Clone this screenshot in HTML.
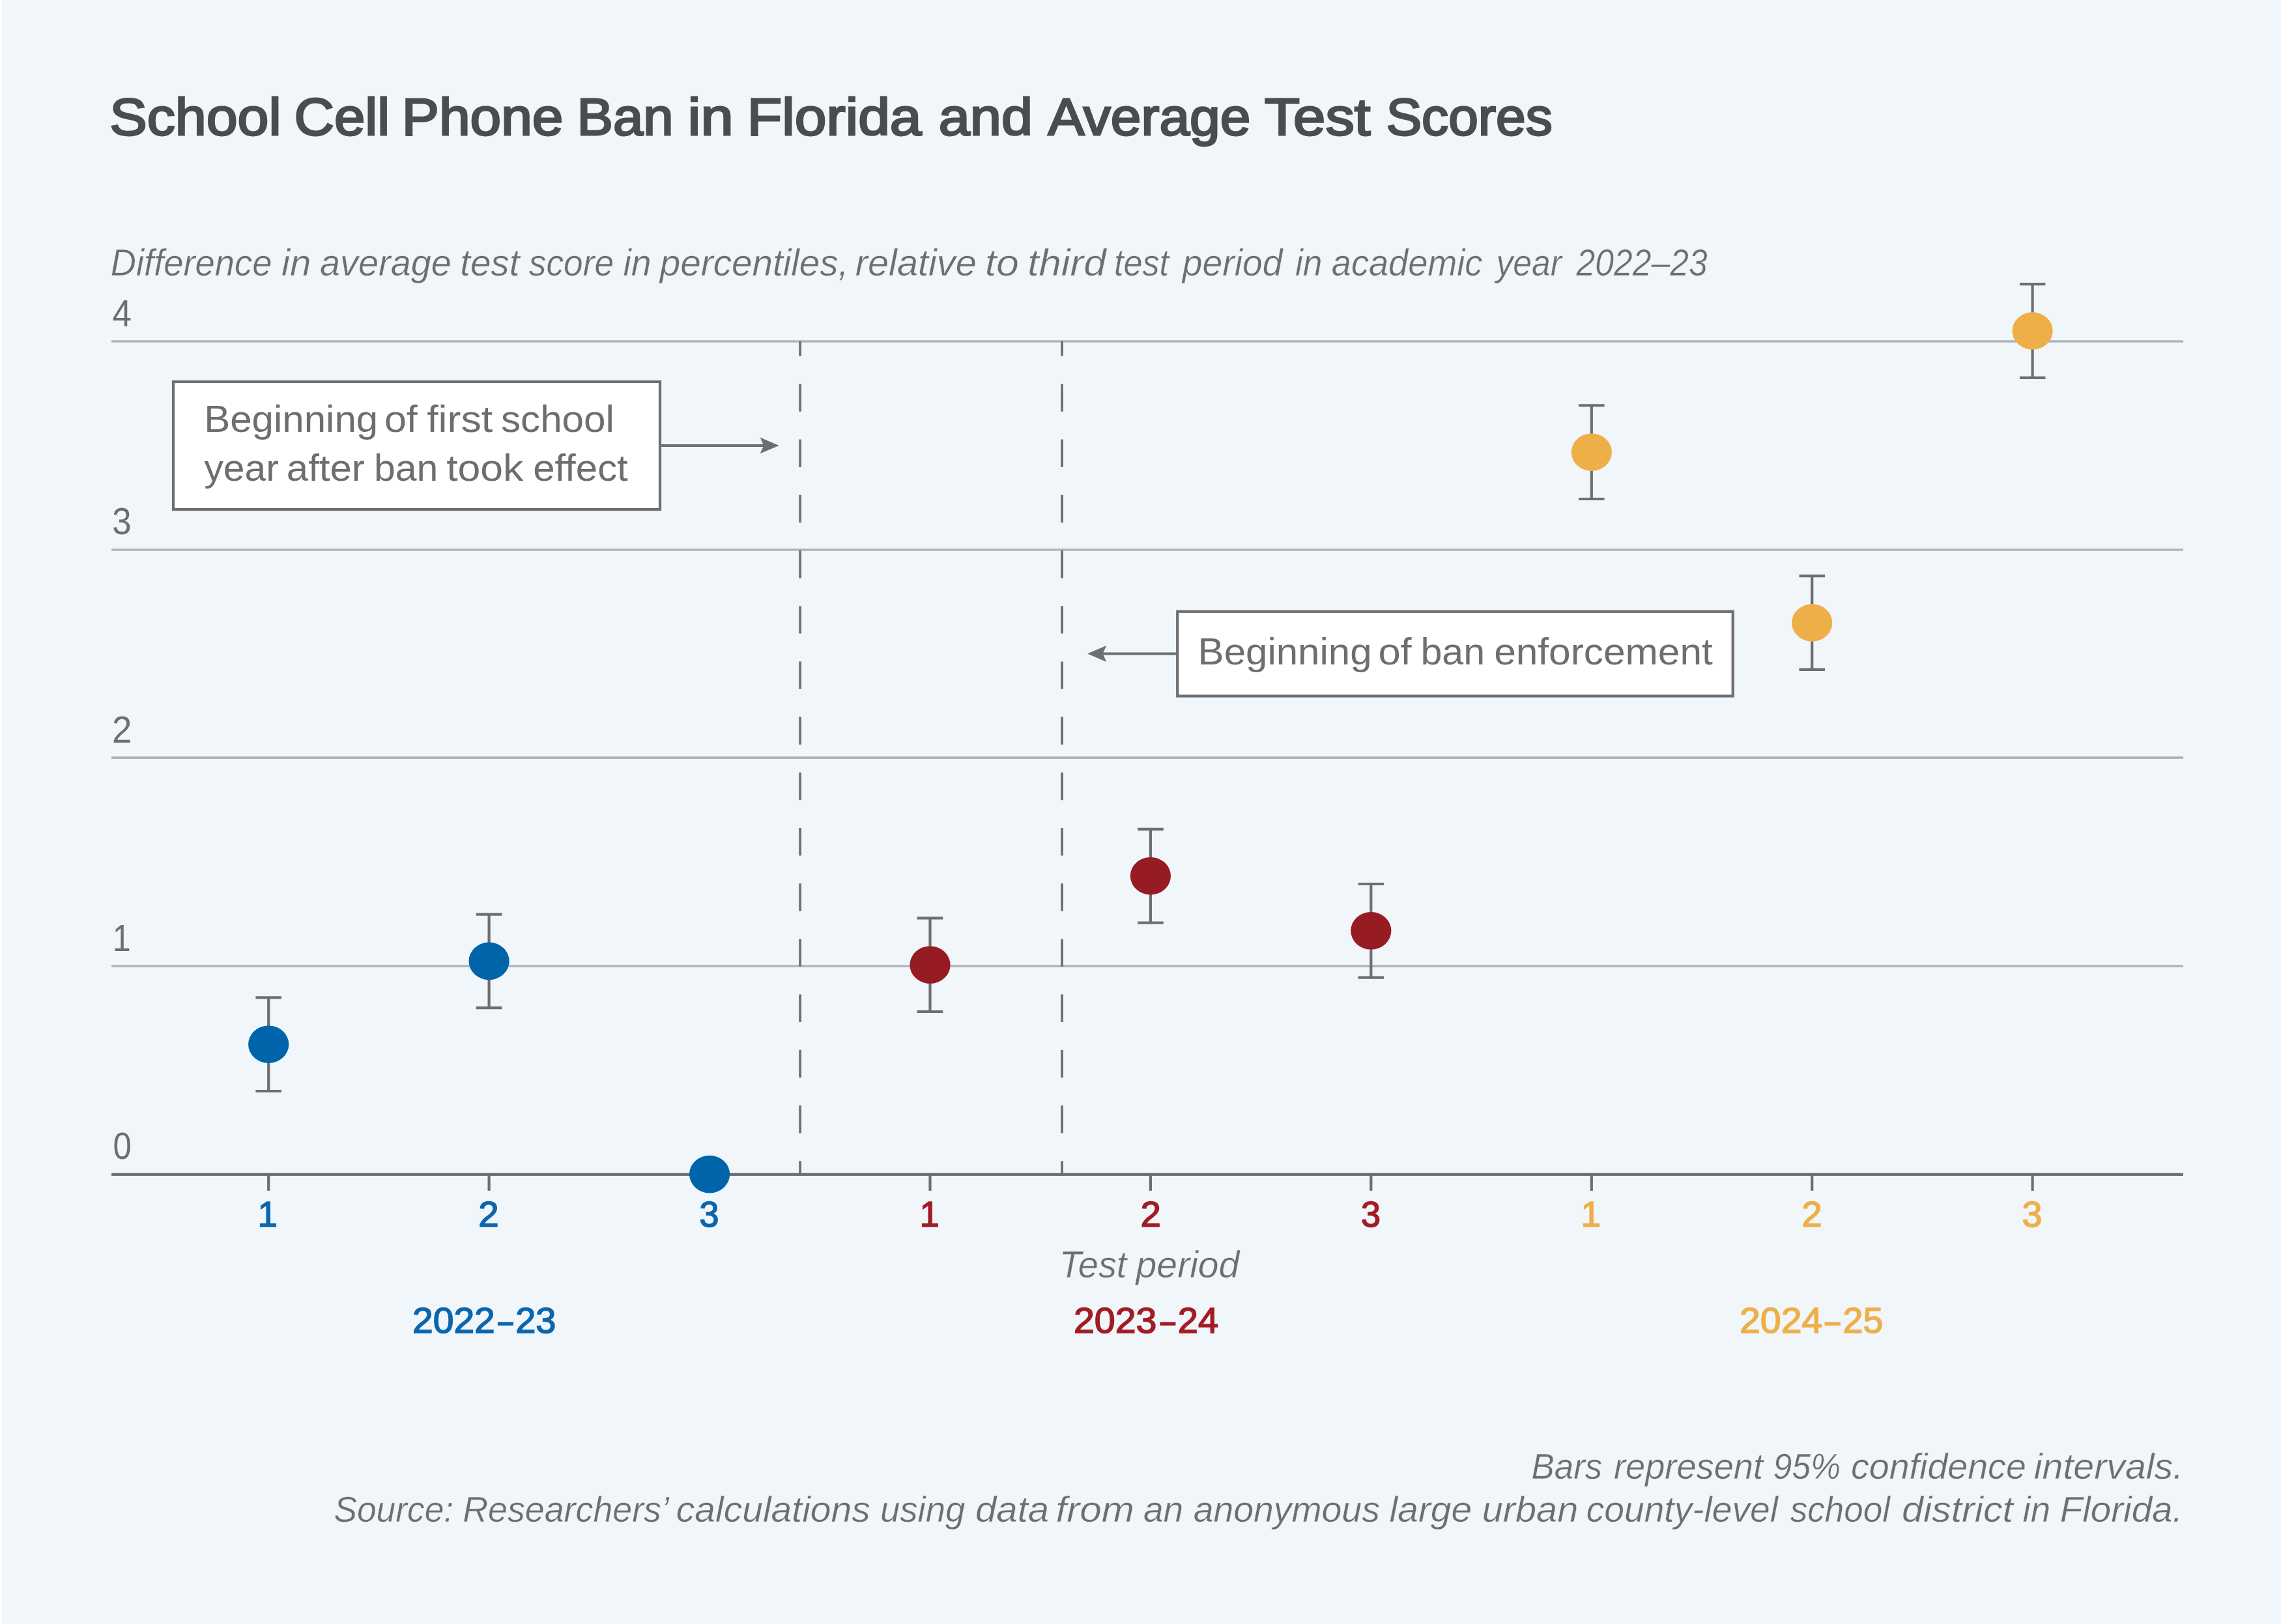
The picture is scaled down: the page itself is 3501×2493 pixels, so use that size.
<!DOCTYPE html>
<html lang="en"><head><meta charset="utf-8">
<title>School Cell Phone Ban in Florida and Average Test Scores</title>
<style>
html,body{margin:0;padding:0;background:#F1F6FB;}
body{width:3501px;height:2493px;overflow:hidden;}
svg{display:block;}
text{font-family:"Liberation Sans",Arial,Helvetica,sans-serif;}
.i{font-style:italic;}
</style></head><body>
<svg width="3501" height="2493" viewBox="0 0 3501 2493" role="img" aria-label="School Cell Phone Ban in Florida and Average Test Scores">
<rect x="0" y="0" width="3501" height="2493" fill="#F1F6FB"/>
<rect x="0" y="0" width="2.6" height="2493" fill="#ffffff"/>
<g stroke="#B0B3B9" stroke-width="3.7" fill="none">
<line x1="171.1" y1="1483.00" x2="3351.0" y2="1483.00"/>
<line x1="171.1" y1="1163.05" x2="3351.0" y2="1163.05"/>
<line x1="171.1" y1="844.00" x2="3351.0" y2="844.00"/>
<line x1="171.1" y1="524.00" x2="3351.0" y2="524.00"/>
</g>
<g stroke="#6D6E72" stroke-width="3.8" fill="none" stroke-dasharray="42.4 42.8" stroke-dashoffset="19.8">
<line x1="1228.1" y1="524.00" x2="1228.1" y2="1802.85"/>
<line x1="1630.0" y1="524.00" x2="1630.0" y2="1802.85"/>
</g>
<g stroke="#6D6E72" stroke-width="4.3" fill="none">
<line x1="171.1" y1="1802.85" x2="3351.0" y2="1802.85"/>
</g>
<g stroke="#6D6E72" stroke-width="4.2" fill="none">
<line x1="412.2" y1="1802.85" x2="412.2" y2="1827.9"/>
<line x1="750.6" y1="1802.85" x2="750.6" y2="1827.9"/>
<line x1="1089.1" y1="1802.85" x2="1089.1" y2="1827.9"/>
<line x1="1427.5" y1="1802.85" x2="1427.5" y2="1827.9"/>
<line x1="1765.9" y1="1802.85" x2="1765.9" y2="1827.9"/>
<line x1="2104.3" y1="1802.85" x2="2104.3" y2="1827.9"/>
<line x1="2442.8" y1="1802.85" x2="2442.8" y2="1827.9"/>
<line x1="2781.2" y1="1802.85" x2="2781.2" y2="1827.9"/>
<line x1="3119.6" y1="1802.85" x2="3119.6" y2="1827.9"/>
</g>
<g stroke="#6D6E72" stroke-width="4.2" fill="none">
<path d="M412.2 1531.4V1675.0M392.4 1531.4H431.9M392.4 1675.0H431.9"/>
<path d="M750.6 1403.6V1547.2M730.9 1403.6H770.4M730.9 1547.2H770.4"/>
<path d="M1427.5 1409.4V1553.0M1407.7 1409.4H1447.2M1407.7 1553.0H1447.2"/>
<path d="M1765.9 1272.9V1416.5M1746.2 1272.9H1785.7M1746.2 1416.5H1785.7"/>
<path d="M2104.3 1357.0V1500.6M2084.6 1357.0H2124.1M2084.6 1500.6H2124.1"/>
<path d="M2442.8 622.4V766.0M2423.0 622.4H2462.5M2423.0 766.0H2462.5"/>
<path d="M2781.2 884.2V1027.8M2761.5 884.2H2801.0M2761.5 1027.8H2801.0"/>
<path d="M3119.6 436.2V579.8M3099.9 436.2H3139.4M3099.9 579.8H3139.4"/>
</g>
<ellipse cx="412.2" cy="1603.2" rx="31.1" ry="28.8" fill="#0064AA"/>
<ellipse cx="750.6" cy="1475.4" rx="31.1" ry="28.8" fill="#0064AA"/>
<ellipse cx="1089.1" cy="1802.6" rx="31.1" ry="28.8" fill="#0064AA"/>
<ellipse cx="1427.5" cy="1481.2" rx="31.1" ry="28.8" fill="#961B22"/>
<ellipse cx="1765.9" cy="1344.7" rx="31.1" ry="28.8" fill="#961B22"/>
<ellipse cx="2104.3" cy="1428.8" rx="31.1" ry="28.8" fill="#961B22"/>
<ellipse cx="2442.8" cy="694.2" rx="31.1" ry="28.8" fill="#EFAF48"/>
<ellipse cx="2781.2" cy="956.0" rx="31.1" ry="28.8" fill="#EFAF48"/>
<ellipse cx="3119.6" cy="508.0" rx="31.1" ry="28.8" fill="#EFAF48"/>
<g stroke="#6D6E72" stroke-width="4.2" fill="#ffffff">
<rect x="266" y="586" width="747" height="196"/>
<rect x="1807.2" y="938.8" width="852.5" height="129.7"/>
</g>
<g stroke="#6D6E72" stroke-width="4" fill="none">
<line x1="1014" y1="683.9" x2="1174" y2="683.9"/>
<line x1="1806" y1="1003.5" x2="1691" y2="1003.5"/>
</g>
<g fill="#6D6E72" stroke="none">
<path d="M1195.8 683.9L1166.6 671.5L1172.2 683.9L1166.6 696.3Z"/>
<path d="M1669 1003.5L1698.2 991.1L1692.6 1003.5L1698.2 1015.9Z"/>
</g>
<text id="title" y="206.90" font-size="80.50" fill="#4B4C50" stroke="#4B4C50" stroke-width="2.80" stroke-linejoin="miter"><tspan id="title_0" x="168.20" textLength="263.40" lengthAdjust="spacingAndGlyphs">School</tspan> <tspan id="title_1" x="451.60" textLength="146.60" lengthAdjust="spacingAndGlyphs">Cell</tspan> <tspan id="title_2" x="616.80" textLength="247.60" lengthAdjust="spacingAndGlyphs">Phone</tspan> <tspan id="title_3" x="885.40" textLength="148.20" lengthAdjust="spacingAndGlyphs">Ban</tspan> <tspan id="title_4" x="1055.40" textLength="70.20" lengthAdjust="spacingAndGlyphs">in</tspan> <tspan id="title_5" x="1146.80" textLength="267.80" lengthAdjust="spacingAndGlyphs">Florida</tspan> <tspan id="title_6" x="1440.80" textLength="144.20" lengthAdjust="spacingAndGlyphs">and</tspan> <tspan id="title_7" x="1608.40" textLength="311.00" lengthAdjust="spacingAndGlyphs">Average</tspan> <tspan id="title_8" x="1940.80" textLength="162.60" lengthAdjust="spacingAndGlyphs">Test</tspan> <tspan id="title_9" x="2127.40" textLength="255.40" lengthAdjust="spacingAndGlyphs">Scores</tspan></text>
<text id="sub" y="423.10" font-size="57.50" fill="#6D6E72" class="i" stroke="#F1F6FB" stroke-width="0.40"><tspan id="sub_0" x="169.80" textLength="247.60" lengthAdjust="spacingAndGlyphs">Difference</tspan> <tspan id="sub_1" x="432.00" textLength="45.40" lengthAdjust="spacingAndGlyphs">in</tspan> <tspan id="sub_2" x="491.00" textLength="201.80" lengthAdjust="spacingAndGlyphs">average</tspan> <tspan id="sub_3" x="706.20" textLength="91.20" lengthAdjust="spacingAndGlyphs">test</tspan> <tspan id="sub_4" x="811.80" textLength="130.20" lengthAdjust="spacingAndGlyphs">score</tspan> <tspan id="sub_5" x="956.40" textLength="43.20" lengthAdjust="spacingAndGlyphs">in</tspan> <tspan id="sub_6" x="1012.80" textLength="289.60" lengthAdjust="spacingAndGlyphs">percentiles,</tspan> <tspan id="sub_7" x="1312.80" textLength="186.00" lengthAdjust="spacingAndGlyphs">relative</tspan> <tspan id="sub_8" x="1512.00" textLength="51.80" lengthAdjust="spacingAndGlyphs">to</tspan> <tspan id="sub_9" x="1577.20" textLength="120.40" lengthAdjust="spacingAndGlyphs">third</tspan> <tspan id="sub_10" x="1710.00" textLength="84.00" lengthAdjust="spacingAndGlyphs">test</tspan> <tspan id="sub_11" x="1814.80" textLength="153.60" lengthAdjust="spacingAndGlyphs">period</tspan> <tspan id="sub_12" x="1988.00" textLength="41.60" lengthAdjust="spacingAndGlyphs">in</tspan> <tspan id="sub_13" x="2043.80" textLength="231.60" lengthAdjust="spacingAndGlyphs">academic</tspan> <tspan id="sub_14" x="2296.40" textLength="100.60" lengthAdjust="spacingAndGlyphs">year</tspan> <tspan id="sub_15" x="2419.60" textLength="201.20" lengthAdjust="spacingAndGlyphs">2022–23</tspan></text>
<text id="y4" y="500.90" font-size="56.50" fill="#6D6E72" x="172.40" textLength="29.40" lengthAdjust="spacingAndGlyphs">4</text>
<text id="y3" y="820.40" font-size="56.50" fill="#6D6E72" x="172.20" textLength="29.40" lengthAdjust="spacingAndGlyphs">3</text>
<text id="y2" y="1140.00" font-size="56.50" fill="#6D6E72" x="172.00" textLength="30.40" lengthAdjust="spacingAndGlyphs">2</text>
<text id="y1" y="1460.00" font-size="56.50" fill="#6D6E72" x="172.80" textLength="27.90" lengthAdjust="spacingAndGlyphs">1</text>
<text id="y0" y="1779.30" font-size="56.50" fill="#6D6E72" x="173.40" textLength="28.40" lengthAdjust="spacingAndGlyphs">0</text>
<text id="a1" y="662.60" font-size="58.00" fill="#6D6E72"><tspan id="a1_0" x="313.20" textLength="267.00" lengthAdjust="spacingAndGlyphs">Beginning</tspan> <tspan id="a1_1" x="590.00" textLength="50.80" lengthAdjust="spacingAndGlyphs">of</tspan> <tspan id="a1_2" x="655.20" textLength="101.00" lengthAdjust="spacingAndGlyphs">first</tspan> <tspan id="a1_3" x="769.00" textLength="173.80" lengthAdjust="spacingAndGlyphs">school</tspan></text>
<text id="a2" y="737.60" font-size="58.00" fill="#6D6E72"><tspan id="a2_0" x="313.40" textLength="114.40" lengthAdjust="spacingAndGlyphs">year</tspan> <tspan id="a2_1" x="439.80" textLength="120.00" lengthAdjust="spacingAndGlyphs">after</tspan> <tspan id="a2_2" x="574.00" textLength="98.40" lengthAdjust="spacingAndGlyphs">ban</tspan> <tspan id="a2_3" x="685.20" textLength="118.20" lengthAdjust="spacingAndGlyphs">took</tspan> <tspan id="a2_4" x="818.20" textLength="145.60" lengthAdjust="spacingAndGlyphs">effect</tspan></text>
<text id="b1" y="1019.50" font-size="58.00" fill="#6D6E72"><tspan id="b1_0" x="1838.60" textLength="267.00" lengthAdjust="spacingAndGlyphs">Beginning</tspan> <tspan id="b1_1" x="2115.40" textLength="51.20" lengthAdjust="spacingAndGlyphs">of</tspan> <tspan id="b1_2" x="2180.40" textLength="98.80" lengthAdjust="spacingAndGlyphs">ban</tspan> <tspan id="b1_3" x="2293.20" textLength="335.60" lengthAdjust="spacingAndGlyphs">enforcement</tspan></text>
<text id="x0" y="1883.10" font-size="54.70" fill="#0B66AD" stroke="#0B66AD" stroke-width="1.60" stroke-linejoin="miter" x="395.55">1</text>
<text id="x1" y="1883.10" font-size="54.70" fill="#0B66AD" stroke="#0B66AD" stroke-width="1.60" stroke-linejoin="miter" x="734.20" textLength="31.40" lengthAdjust="spacingAndGlyphs">2</text>
<text id="x2" y="1883.10" font-size="54.70" fill="#0B66AD" stroke="#0B66AD" stroke-width="1.60" stroke-linejoin="miter" x="1073.60" textLength="30.00" lengthAdjust="spacingAndGlyphs">3</text>
<text id="x3" y="1883.10" font-size="54.70" fill="#A21C24" stroke="#A21C24" stroke-width="1.60" stroke-linejoin="miter" x="1411.45">1</text>
<text id="x4" y="1883.10" font-size="54.70" fill="#A21C24" stroke="#A21C24" stroke-width="1.60" stroke-linejoin="miter" x="1750.60" textLength="31.40" lengthAdjust="spacingAndGlyphs">2</text>
<text id="x5" y="1883.10" font-size="54.70" fill="#A21C24" stroke="#A21C24" stroke-width="1.60" stroke-linejoin="miter" x="2089.00" textLength="30.00" lengthAdjust="spacingAndGlyphs">3</text>
<text id="x6" y="1883.10" font-size="54.70" fill="#EFAF48" stroke="#EFAF48" stroke-width="1.60" stroke-linejoin="miter" x="2426.55">1</text>
<text id="x7" y="1883.10" font-size="54.70" fill="#EFAF48" stroke="#EFAF48" stroke-width="1.60" stroke-linejoin="miter" x="2765.20" textLength="31.40" lengthAdjust="spacingAndGlyphs">2</text>
<text id="x8" y="1883.10" font-size="54.70" fill="#EFAF48" stroke="#EFAF48" stroke-width="1.60" stroke-linejoin="miter" x="3103.60" textLength="31.00" lengthAdjust="spacingAndGlyphs">3</text>
<text id="tp" y="1961.00" font-size="57.50" fill="#6D6E72" class="i" stroke="#F1F6FB" stroke-width="0.40"><tspan id="tp_0" x="1625.80" textLength="103.60" lengthAdjust="spacingAndGlyphs">Test</tspan> <tspan id="tp_1" x="1743.60" textLength="158.80" lengthAdjust="spacingAndGlyphs">period</tspan></text>
<text id="yr0" y="2045.80" font-size="54.70" fill="#0B66AD" stroke="#0B66AD" stroke-width="1.60" stroke-linejoin="miter"><tspan id="yr0_0" x="633.00" textLength="126.80" lengthAdjust="spacingAndGlyphs">2022</tspan><tspan id="yr0_1" x="764.60" textLength="22.60" lengthAdjust="spacingAndGlyphs">–</tspan><tspan id="yr0_2" x="791.20" textLength="62.20" lengthAdjust="spacingAndGlyphs">23</tspan></text>
<text id="yr1" y="2045.80" font-size="54.70" fill="#A21C24" stroke="#A21C24" stroke-width="1.60" stroke-linejoin="miter"><tspan id="yr1_0" x="1648.00" textLength="127.40" lengthAdjust="spacingAndGlyphs">2023</tspan><tspan id="yr1_1" x="1781.00" textLength="22.80" lengthAdjust="spacingAndGlyphs">–</tspan><tspan id="yr1_2" x="1807.80" textLength="62.20" lengthAdjust="spacingAndGlyphs">24</tspan></text>
<text id="yr2" y="2045.80" font-size="54.70" fill="#EFAF48" stroke="#EFAF48" stroke-width="1.60" stroke-linejoin="miter"><tspan id="yr2_0" x="2670.00" textLength="127.40" lengthAdjust="spacingAndGlyphs">2024</tspan><tspan id="yr2_1" x="2801.20" textLength="23.20" lengthAdjust="spacingAndGlyphs">–</tspan><tspan id="yr2_2" x="2828.60" textLength="61.60" lengthAdjust="spacingAndGlyphs">25</tspan></text>
<text id="f1" y="2269.80" font-size="56.00" fill="#6D6E72" class="i" stroke="#F1F6FB" stroke-width="0.40"><tspan id="f1_0" x="2350.60" textLength="108.60" lengthAdjust="spacingAndGlyphs">Bars</tspan> <tspan id="f1_1" x="2477.00" textLength="229.00" lengthAdjust="spacingAndGlyphs">represent</tspan> <tspan id="f1_2" x="2721.40" textLength="103.80" lengthAdjust="spacingAndGlyphs">95%</tspan> <tspan id="f1_3" x="2841.00" textLength="268.80" lengthAdjust="spacingAndGlyphs">confidence</tspan> <tspan id="f1_4" x="3121.80" textLength="229.40" lengthAdjust="spacingAndGlyphs">intervals.</tspan></text>
<text id="f2" y="2335.90" font-size="56.00" fill="#6D6E72" class="i" stroke="#F1F6FB" stroke-width="0.40"><tspan id="f2_0" x="512.40" textLength="183.80" lengthAdjust="spacingAndGlyphs">Source:</tspan> <tspan id="f2_1" x="710.20" textLength="313.80" lengthAdjust="spacingAndGlyphs">Researchers’</tspan> <tspan id="f2_2" x="1037.80" textLength="298.00" lengthAdjust="spacingAndGlyphs">calculations</tspan> <tspan id="f2_3" x="1351.00" textLength="130.40" lengthAdjust="spacingAndGlyphs">using</tspan> <tspan id="f2_4" x="1497.00" textLength="113.20" lengthAdjust="spacingAndGlyphs">data</tspan> <tspan id="f2_5" x="1620.60" textLength="120.40" lengthAdjust="spacingAndGlyphs">from</tspan> <tspan id="f2_6" x="1755.00" textLength="61.20" lengthAdjust="spacingAndGlyphs">an</tspan> <tspan id="f2_7" x="1831.80" textLength="286.00" lengthAdjust="spacingAndGlyphs">anonymous</tspan> <tspan id="f2_8" x="2132.60" textLength="126.60" lengthAdjust="spacingAndGlyphs">large</tspan> <tspan id="f2_9" x="2274.80" textLength="147.40" lengthAdjust="spacingAndGlyphs">urban</tspan> <tspan id="f2_10" x="2434.80" textLength="294.20" lengthAdjust="spacingAndGlyphs">county-level</tspan> <tspan id="f2_11" x="2747.80" textLength="153.20" lengthAdjust="spacingAndGlyphs">school</tspan> <tspan id="f2_12" x="2919.00" textLength="171.00" lengthAdjust="spacingAndGlyphs">district</tspan> <tspan id="f2_13" x="3104.60" textLength="42.40" lengthAdjust="spacingAndGlyphs">in</tspan> <tspan id="f2_14" x="3161.80" textLength="188.40" lengthAdjust="spacingAndGlyphs">Florida.</tspan></text>
</svg>
</body></html>
